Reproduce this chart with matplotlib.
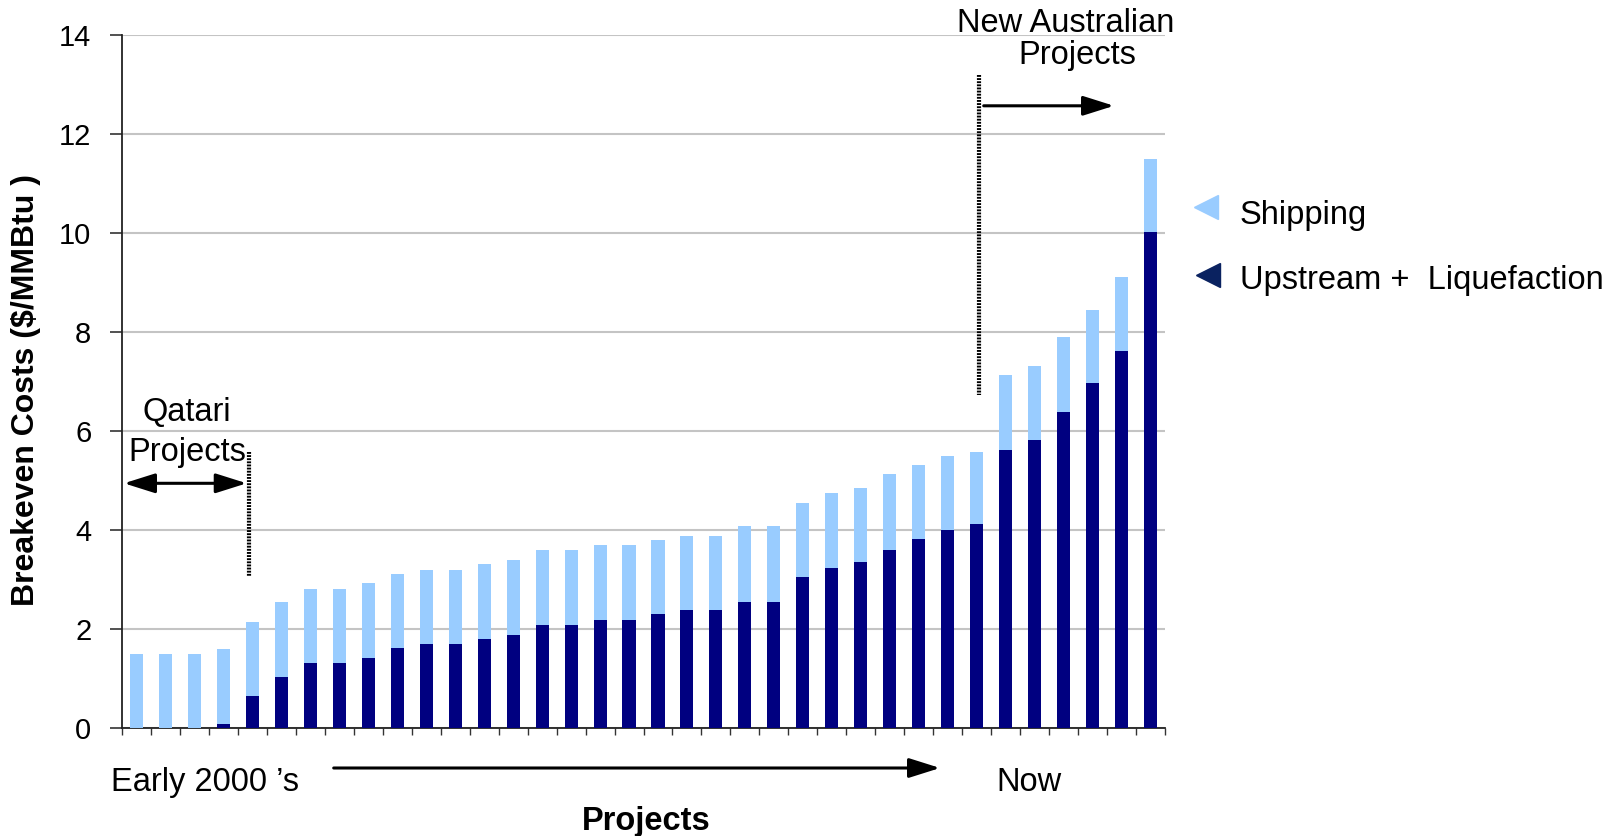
import matplotlib
matplotlib.use("Agg")
import matplotlib.pyplot as plt
import numpy as np

# data
upstream = [0.0, 0.0, 0.0, 0.08, 0.65, 1.04, 1.32, 1.32, 1.42, 1.62, 1.70, 1.70,
            1.80, 1.89, 2.09, 2.09, 2.18, 2.18, 2.30, 2.38, 2.38, 2.56, 2.56, 3.05,
            3.23, 3.35, 3.61, 3.82, 4.00, 4.12, 5.62, 5.82, 6.39, 6.97, 7.62, 10.02]
total = [1.50, 1.50, 1.50, 1.60, 2.15, 2.55, 2.82, 2.82, 2.94, 3.12, 3.20, 3.20,
         3.32, 3.41, 3.61, 3.61, 3.70, 3.70, 3.80, 3.88, 3.88, 4.08, 4.08, 4.55,
         4.75, 4.85, 5.14, 5.32, 5.51, 5.59, 7.14, 7.32, 7.91, 8.45, 9.12, 11.51]
shipping = [t - u for t, u in zip(total, upstream)]
yticks = [0, 2, 4, 6, 8, 10, 12, 14]
series_names = ["Shipping", "Upstream +  Liquefaction"]

W, H = 1610, 836
plt.rcParams["font.family"] = ["Liberation Sans", "DejaVu Sans"]
fig = plt.figure(figsize=(W / 100, H / 100), dpi=100)
AX_L, AX_R, AX_B, AX_T = 122, 1165, 728.3, 35.3
ax = fig.add_axes([AX_L / W, 1 - AX_B / H, (AX_R - AX_L) / W, (AX_B - AX_T) / H])

LIGHT = "#99CCFF"
NAVY = "#000080"
x = np.arange(len(total))
ax.bar(x, upstream, width=0.45, color=NAVY, zorder=3)
ax.bar(x, shipping, bottom=upstream, width=0.45, color=LIGHT, zorder=3)

ax.set_xlim(-0.5, len(total) - 0.5)
ax.set_ylim(0, 14)
ax.set_yticks(yticks)
ax.set_yticklabels([str(v) for v in yticks], fontsize=21)
ax.tick_params(axis="y", length=9, width=1.2, pad=13, direction="out", color="#333333")
ax.set_xticks(np.arange(-0.5, len(total) + 0.5, 1))
ax.set_xticklabels([])
ax.tick_params(axis="x", length=5, width=1.0, direction="out", color="#333333")
ax.grid(axis="y", color="#c4c4c4", lw=1.5, zorder=0)
for s in ["top", "right"]:
    ax.spines[s].set_visible(False)
for s in ["left", "bottom"]:
    ax.spines[s].set_linewidth(1.3)
    ax.spines[s].set_color("#222222")


def fx(px):
    return px / W


def fy(py):
    return 1 - py / H


def dx(px):
    return (px - AX_L) / (AX_R - AX_L) * len(total) - 0.5


def dy(py):
    return (AX_B - py) / (AX_B - AX_T) * 14


FS = 23.5
fig.text(fx(26), fy(390), "Breakeven Costs ($/MMBtu )", fontsize=23, fontweight="bold",
         rotation=90, ha="center", va="center")


def arrow(x0, y0, x1, y1, both=False):
    style = "<|-|>" if both else "-|>"
    fig.add_artist(matplotlib.patches.FancyArrowPatch(
        (fx(x0), fy(y0)), (fx(x1), fy(y1)), transform=fig.transFigure,
        arrowstyle=f"{style},head_length=1.9,head_width=0.6", mutation_scale=10,
        lw=2.2, color="black", shrinkA=0, shrinkB=0))


DOT = dict(color="black", lw=3.0, ls=(0, (0.45, 0.3)), zorder=5)

# Qatari annotation
ax.text(dx(186.5), dy(421), "Qatari", fontsize=FS, ha="center", va="baseline")
ax.text(dx(187), dy(461), "Projects", fontsize=FS, ha="center", va="baseline")
arrow(124, 483.3, 246.7, 483.3, both=True)
ax.plot([dx(249.3), dx(249.3)], [dy(452), dy(576)], **DOT)

# Australian annotation
ax.plot([dx(978.5), dx(978.5)], [dy(75), dy(395)], clip_on=False, **DOT)
arrow(983.7, 105.8, 1114, 105.8)
ax.text(dx(1066), dy(32), "New Australian", fontsize=FS, ha="center", va="baseline")
ax.text(dx(1077.6), dy(64), "Projects", fontsize=FS, ha="center", va="baseline")

# bottom annotations
fig.text(fx(110.5), fy(791), "Early 2000 \u2019s", fontsize=FS, ha="left", va="baseline")
fig.text(fx(1029), fy(791), "Now", fontsize=FS, ha="center", va="baseline")
fig.text(fx(646), fy(830), "Projects", fontsize=FS, fontweight="bold",
         ha="center", va="baseline")
arrow(333.7, 768, 940, 768)

# legend
fig.add_artist(plt.Line2D([fx(1205.5)], [fy(207)], marker="<", markersize=17, color=LIGHT,
                          ls="none", transform=fig.transFigure))
fig.add_artist(plt.Line2D([fx(1207.5)], [fy(275)], marker="<", markersize=17, color="#0a2260",
                          ls="none", transform=fig.transFigure))
fig.text(fx(1240), fy(224.3), series_names[0], fontsize=23.5, ha="left", va="baseline")
fig.text(fx(1240), fy(288.5), series_names[1], fontsize=23.5, ha="left", va="baseline")

fig.savefig("out.png", dpi=100)
